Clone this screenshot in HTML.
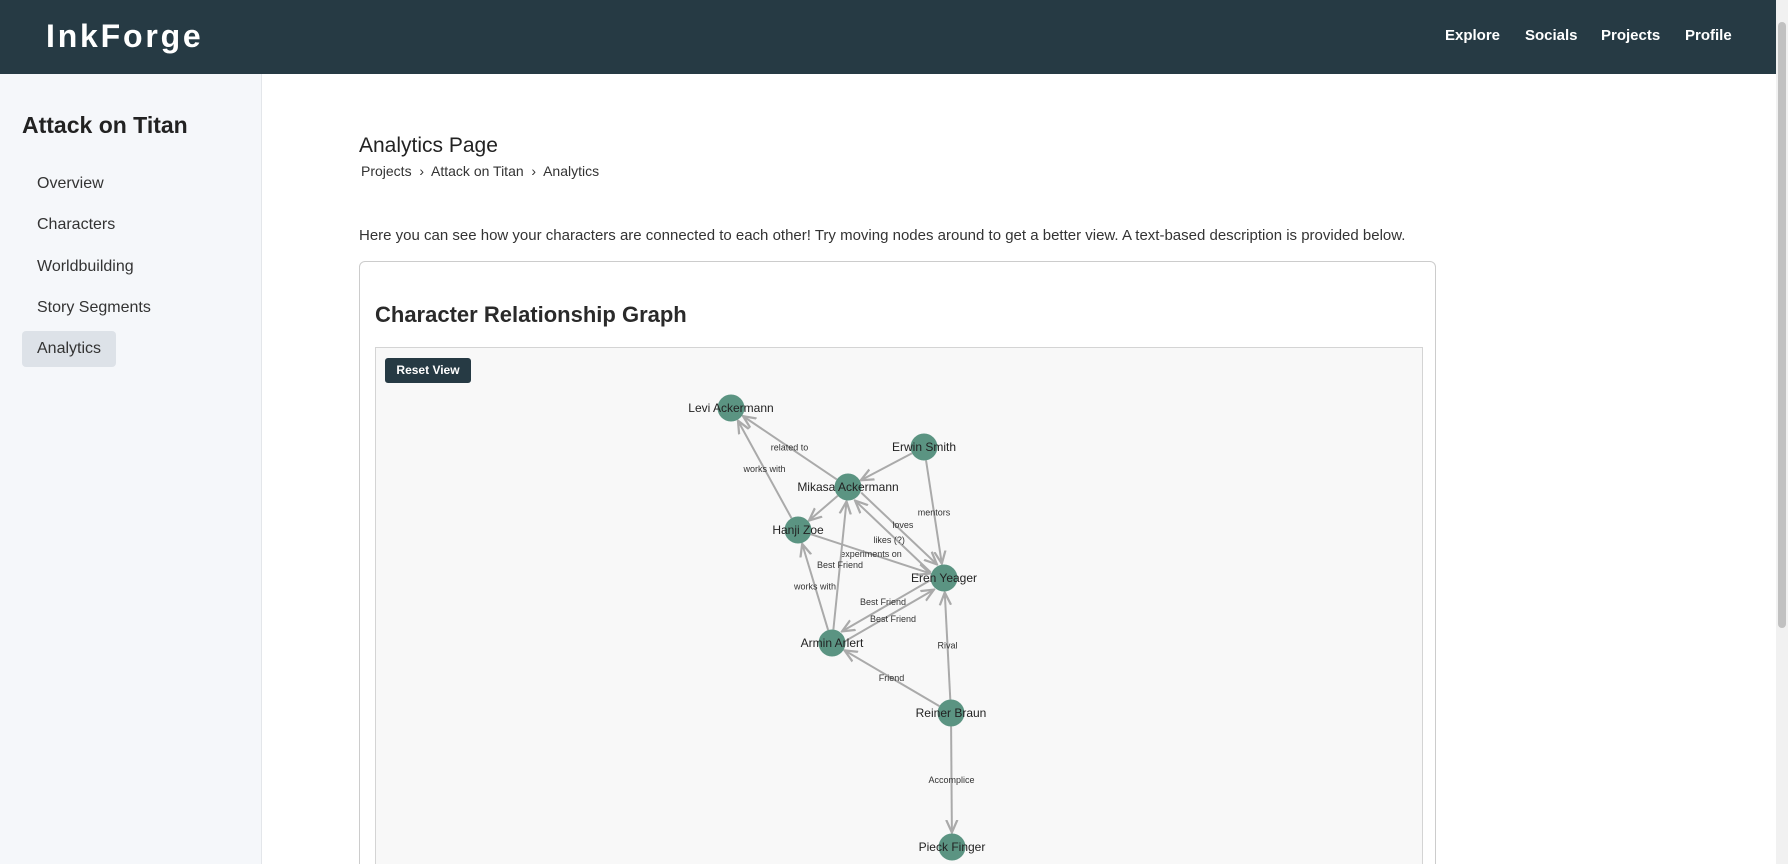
<!DOCTYPE html>
<html><head><meta charset="utf-8"><style>
*{box-sizing:border-box;margin:0;padding:0}
html,body{width:1788px;height:864px;overflow:hidden}
body{font-family:"Liberation Sans",sans-serif;background:#fff;position:relative}
#hdr{position:absolute;left:0;top:0;width:1776px;height:74px;background:#263a44}
#logo{position:absolute;left:46px;top:18px;color:#fff;font-weight:900;font-size:32px;letter-spacing:2.8px}
.nav{position:absolute;top:27px;color:#fff;font-weight:bold;font-size:15px}
#side{position:absolute;left:0;top:74px;width:262px;height:790px;background:#f5f7fa;border-right:1px solid #e3e6ea}
#side h2{position:absolute;left:22px;top:38px;font-size:23px;color:#222}
.si{position:absolute;left:22px;width:94px;height:36px;padding-left:15px;line-height:36px;font-size:16px;color:#333;border-radius:4px}
.si.act{background:#dde2e8}
#scroll{position:absolute;left:1776px;top:0;width:12px;height:864px;background:#f1f1f1}
#thumb{position:absolute;left:2px;top:22px;width:8px;height:606px;background:#c1c1c1;border-radius:4px}
</style></head><body>
<div id="hdr">
<div id="logo">InkForge</div>
<div class="nav" style="left:1445px">Explore</div>
<div class="nav" style="left:1525px">Socials</div>
<div class="nav" style="left:1601px">Projects</div>
<div class="nav" style="left:1685px">Profile</div>
</div>
<div id="side">
<h2>Attack on Titan</h2>
<div class="si" style="top:92px">Overview</div>
<div class="si" style="top:133px">Characters</div>
<div class="si" style="top:175px;width:130px">Worldbuilding</div>
<div class="si" style="top:216px;width:150px">Story Segments</div>
<div class="si act" style="top:257px">Analytics</div>
</div>
<div style="position:absolute;left:359px;top:134px;font-size:21px;color:#222">Analytics Page</div>
<div style="position:absolute;left:361px;top:163px;font-size:14px;color:#333"><span>Projects</span> &nbsp;›&nbsp; <span>Attack on Titan</span> &nbsp;›&nbsp; <span>Analytics</span></div>
<div style="position:absolute;left:359px;top:227px;font-size:15px;color:#333">Here you can see how your characters are connected to each other! Try moving nodes around to get a better view. A text-based description is provided below.</div>
<div style="position:absolute;left:359px;top:261px;width:1077px;height:620px;border:1px solid #ccc;border-radius:6px">
<div style="position:absolute;left:15px;top:40px;font-size:22px;font-weight:bold;color:#2a2a2a">Character Relationship Graph</div>
<div style="position:absolute;left:15px;top:85px;width:1048px;height:560px;background:#f8f8f8;border:1px solid #d4d4d4">
<div style="position:absolute;left:9px;top:10px;width:86px;height:25px;background:#263a44;color:#fff;font-size:12px;font-weight:bold;text-align:center;line-height:25px;border-radius:3px">Reset View</div>
</div></div>
<svg id="g" width="1788" height="864" style="position:absolute;left:0;top:0;pointer-events:none">
<defs><marker id="ar" viewBox="0 0 10 10" refX="9" refY="5" markerWidth="7" markerHeight="7" orient="auto"><path d="M0,1 L9,5 L0,9" fill="none" stroke="#aaa" stroke-width="1.6"/></marker></defs>
</svg>
<div id="scroll"><div id="thumb"></div></div>
<script>
const nodeNames=["Levi Ackermann","Erwin Smith","Mikasa Ackermann","Hanji Zoe","Eren Yeager","Armin Arlert","Reiner Braun","Pieck Finger"];
const nodeX=[731,924,848,798,944,832,951,952];
const nodeY=[408,447,487,530,578,643,713,847];
const edgeFrom=[2,3,1,1,2,4,3,5,5,5,4,6,6,6,2];
const edgeTo=[0,0,2,4,4,2,4,2,3,4,5,4,5,7,3];
const edgeLabels=["related to","works with","","mentors","loves","likes (?)","experiments on","Best Friend","works with","Best Friend","Best Friend","Rival","Friend","Accomplice",""];
const R=13.5,ns="http://www.w3.org/2000/svg",svg=document.getElementById('g');
for(let i=0;i<edgeFrom.length;i++){
 const a=edgeFrom[i],b=edgeTo[i];
 let x1=nodeX[a],y1=nodeY[a],x2=nodeX[b],y2=nodeY[b];
 const dx=x2-x1,dy=y2-y1,d=Math.hypot(dx,dy);
 const lo=Math.min(a,b),hi=Math.max(a,b);
 const cdx=nodeX[hi]-nodeX[lo],cdy=nodeY[hi]-nodeY[lo];
 let off=0;
 if(lo===2&&hi===4)off=(a<b?-1:1)*5;
 if(lo===4&&hi===5)off=(a<b?1:-1)*5;
 const nx=-cdy/d*off,ny=cdx/d*off;
 const l=document.createElementNS(ns,'line');
 
 
 l.setAttribute('x1',x1+dx/d*R+nx);l.setAttribute('y1',y1+dy/d*R+ny);
 l.setAttribute('x2',x2-dx/d*(R+1)+nx);l.setAttribute('y2',y2-dy/d*(R+1)+ny);
 l.setAttribute('stroke','#aaa');l.setAttribute('stroke-width','2');l.setAttribute('marker-end','url(#ar)');
 svg.appendChild(l);
 if(edgeLabels[i]){
  const t=document.createElementNS(ns,'text');
  
  
  t.setAttribute('x',(x1+x2)/2+nx*2);t.setAttribute('y',(y1+y2)/2+ny*2+3);
  t.setAttribute('text-anchor','middle');t.setAttribute('font-size','9');t.setAttribute('fill','#333');
  t.setAttribute('font-family','Liberation Sans, sans-serif');
  t.textContent=edgeLabels[i];svg.appendChild(t);
 }
}
for(let i=0;i<nodeNames.length;i++){
 const c=document.createElementNS(ns,'circle');
 
 
 c.setAttribute('cx',nodeX[i]);c.setAttribute('cy',nodeY[i]);c.setAttribute('r',R);c.setAttribute('fill','#5b9482');
 svg.appendChild(c);
 const t=document.createElementNS(ns,'text');
 
 
 t.setAttribute('x',nodeX[i]);t.setAttribute('y',nodeY[i]+4);t.setAttribute('text-anchor','middle');
 t.setAttribute('font-size','12');t.setAttribute('fill','#222');t.setAttribute('font-family','Liberation Sans, sans-serif');
 t.textContent=nodeNames[i];svg.appendChild(t);
}
</script>
</body></html>
